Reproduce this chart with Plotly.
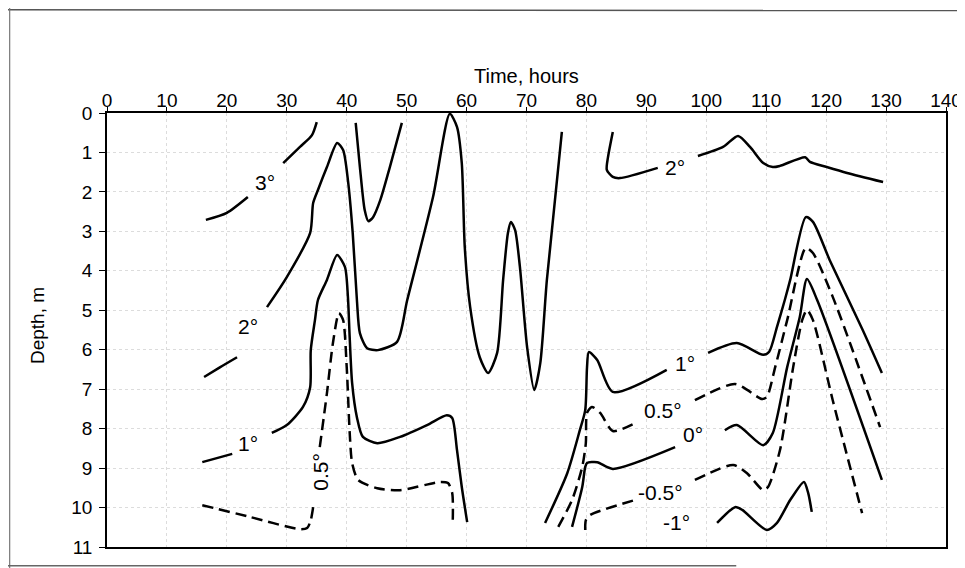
import plotly.graph_objects as go

# ---------------- data (time in hours, depth in m); None = gap for the label ----------------
iso3_t = [16.5, 20.0, 23.5, None, 29.4, 32.2, 34.2, 35.0]
iso3_d = [2.71, 2.53, 2.13, None, 1.27, 0.86, 0.56, 0.23]

iso3v_t = [41.5, 42.2, 43.0, 43.6, 44.4, 45.6, 47.2, 49.2]
iso3v_d = [0.25, 1.37, 2.46, 2.74, 2.64, 2.21, 1.37, 0.25]

iso2a_t = [16.2, 18.9, 21.7, None, 26.7, 30.0, 33.9, 34.4, 35.2, 36.7, 38.4, 39.4, 40.2, 41.0,
           41.7, 42.2, 43.4, 45.2, 48.4, 50.1, 54.4, 57.2, 58.4, 59.2, 59.7, 60.6, 62.2, 63.6,
           65.1, 66.1, 66.9, 67.4, 68.1, 68.9, 70.1, 71.3, 72.3, 73.4, 75.9]
iso2a_d = [6.69, 6.44, 6.19, None, 4.92, 4.16, 3.04, 2.28, 1.95, 1.37, 0.76, 0.94, 1.70, 3.04,
           4.74, 5.58, 5.96, 6.01, 5.80, 4.74, 2.13, 0.02, 0.35, 1.27, 3.40, 4.92, 6.19, 6.59,
           6.08, 4.23, 3.04, 2.76, 2.97, 3.90, 5.93, 7.02, 6.34, 4.23, 0.48]

iso2b_t = [84.4, 83.6, 83.4, 84.4, 85.6, 91.9, None, 98.6, 102.8, 105.3, 107.3, 109.5, 111.1,
           112.3, 116.5, 117.3, 120.1, 123.5, 129.5]
iso2b_d = [0.48, 1.12, 1.44, 1.62, 1.65, 1.39, None, 1.09, 0.86, 0.58, 0.86, 1.27, 1.37,
           1.34, 1.12, 1.24, 1.37, 1.52, 1.75]

iso1a_t = [15.9, 20.9, None, 27.5, 30.0, 32.7, 33.9, 34.0, 34.7, 35.2, 36.7, 38.4, 39.7, 40.2,
           40.5, 40.9, 41.7, 42.7, 45.1, 48.9, 53.4, 56.7, 57.6, 58.4, 59.2, 60.1]
iso1a_d = [8.85, 8.64, None, 8.11, 7.91, 7.45, 6.95, 6.01, 5.25, 4.74, 4.23, 3.60, 3.90, 4.66,
           5.70, 6.84, 7.71, 8.21, 8.37, 8.21, 7.91, 7.66, 7.73, 8.54, 9.48, 10.37]

iso05a_t = [15.9, 23.9, 32.2, 33.4, 34.0, 34.4, None, 35.5, 36.7, 37.7, 38.7, 39.4, 40.0, 40.5,
            40.9, 41.9, 45.1, 48.9, 55.6, 56.9, 57.6, 57.7]
iso05a_d = [9.94, 10.24, 10.55, 10.52, 10.32, 9.99, None, 8.47, 7.10, 5.83, 5.07, 5.25, 6.44, 8.11,
            8.87, 9.30, 9.51, 9.56, 9.35, 9.38, 9.63, 10.32]

iso1b_t = [73.1, 76.8, 78.9, 79.8, 80.1, 80.4, 81.8, 84.4, 93.4, None, 100.3, 105.1, 109.5, 110.5,
           111.8, 113.1, 114.0, 116.6, 117.8, 120.6, 126.1, 129.3]
iso1b_d = [10.39, 9.13, 8.04, 7.53, 6.44, 6.06, 6.26, 7.07, 6.51, None, 6.08, 5.83, 6.13, 6.05,
           5.42, 4.74, 4.23, 2.64, 2.76, 3.73, 5.50, 6.59]

iso05b_t = [75.3, 77.6, 79.3, 79.9, 80.1, 80.9, 82.3, 84.4, 88.1, None, 98.1, 104.8, 109.3, 110.1,
            111.5, 113.5, 116.6, 117.8, 121.1, 129.0]
iso05b_d = [10.49, 9.81, 8.97, 8.37, 7.60, 7.45, 7.60, 8.06, 7.86, None, 7.28, 6.87, 7.25, 7.20,
            6.44, 5.25, 3.42, 3.55, 4.66, 7.96]

iso0_t = [77.6, 79.3, 79.8, 80.1, 81.8, 84.4, 94.8, None, 103.1, 105.1, 109.5, 111.1, 113.5,
          115.6, 116.8, 118.5, 129.3]
iso0_d = [10.49, 9.48, 8.97, 8.87, 8.85, 9.02, 8.47, None, 8.04, 7.91, 8.42, 8.11, 6.44,
          5.17, 4.21, 4.74, 9.30]

isom05_t = [79.8, 79.9, 80.6, 88.1, None, 98.1, 104.5, 106.8, 109.5, 110.3, 112.3, 114.5, 116.0,
            116.8, 117.8, 121.1, 126.0]
isom05_d = [10.57, 10.32, 10.19, 9.81, None, 9.30, 8.92, 9.13, 9.56, 9.48, 8.54, 6.44, 5.25,
            4.99, 5.25, 7.28, 10.14]

isom1_t = [101.8, 104.8, 106.0, 110.1, 111.8, 114.0, 116.3, 117.0, 117.6]
isom1_d = [10.39, 9.99, 10.06, 10.57, 10.39, 9.81, 9.35, 9.63, 10.11]

label_text = ["3°", "2°", "1°", "0.5°", "2°", "1°", "0.5°", "0°", "-0.5°", "-1°"]
label_t = [26.4, 23.5, 23.5, 35.5, 94.8, 96.4, 92.8, 97.8, 92.3, 95.1]
label_d = [1.77, 5.42, 8.37, 9.10, 1.39, 6.34, 7.53, 8.16, 9.63, 10.39]
label_angle = [0, 0, 0, -90, 0, 0, 0, 0, 0, 0]

x_ticks = list(range(0, 141, 10))
y_ticks = list(range(0, 12))

FONT = "Liberation Sans, Arial, sans-serif"

curves = [
    (iso3_t, iso3_d, "solid"),
    (iso3v_t, iso3v_d, "solid"),
    (iso2a_t, iso2a_d, "solid"),
    (iso2b_t, iso2b_d, "solid"),
    (iso1a_t, iso1a_d, "solid"),
    (iso05a_t, iso05a_d, "11px,6px"),
    (iso1b_t, iso1b_d, "solid"),
    (iso05b_t, iso05b_d, "11px,6px"),
    (iso0_t, iso0_d, "solid"),
    (isom05_t, isom05_d, "11px,6px"),
    (isom1_t, isom1_d, "solid"),
]

fig = go.Figure()
for t, d, dash in curves:
    fig.add_trace(go.Scatter(
        x=t, y=d, mode="lines", connectgaps=False,
        line=dict(color="black", width=2.5, dash=dash, shape="spline", smoothing=0.7),
        showlegend=False, hoverinfo="skip"))

for txt, t, d, ang in zip(label_text, label_t, label_d, label_angle):
    fig.add_annotation(x=t, y=d, text=txt, showarrow=False, textangle=ang,
                       xanchor="center", yanchor="middle",
                       font=dict(family=FONT, size=21, color="black"))

# axis titles
fig.add_annotation(xref="paper", yref="paper", x=0.50, y=1.085, text="Time, hours",
                   xanchor="center", yanchor="middle",
                   showarrow=False, font=dict(family=FONT, size=20, color="black"))
fig.add_annotation(xref="paper", yref="paper", x=-0.083, y=0.51, text="Depth, m",
                   xanchor="center", yanchor="middle",
                   showarrow=False, textangle=-90, font=dict(family=FONT, size=19, color="black"))

# scanned page frame lines
fig.add_shape(type="line", xref="paper", yref="paper", x0=-0.13, x1=1.03, y0=1.238, y1=1.236,
              line=dict(color="#555", width=1.5))
fig.add_shape(type="line", xref="paper", yref="paper", x0=-0.116, x1=-0.116, y0=-0.05, y1=1.245,
              line=dict(color="#777", width=1.2))
fig.add_shape(type="line", xref="paper", yref="paper", x0=-0.13, x1=0.75, y0=-0.043, y1=-0.043,
              line=dict(color="#666", width=1.5))

fig.update_xaxes(side="top", range=[0, 140], tickvals=x_ticks, ticks="outside", ticklen=4,
                 ticklabelstandoff=-7, automargin=False, ticklabeloverflow="allow",
                 tickcolor="black", showline=True, linecolor="black", linewidth=1.5, mirror=True,
                 showgrid=True, gridcolor="#dcdcdc", griddash="dot", gridwidth=1, zeroline=False,
                 tickfont=dict(family=FONT, size=19, color="black"))
fig.update_yaxes(range=[11, 0], tickvals=y_ticks, ticks="outside", ticklen=6,
                 ticklabelstandoff=3, automargin=False, ticklabeloverflow="allow",
                 tickcolor="black", showline=True, linecolor="black", linewidth=1.5, mirror=True,
                 showgrid=True, gridcolor="#dcdcdc", griddash="dot", gridwidth=1, zeroline=False,
                 tickfont=dict(family=FONT, size=19, color="black"))

# the page puts the figure at an 8px body offset: size it so the plot area lands where the reference has it
fig.update_layout(width=957, height=560, margin=dict(l=99, r=19, t=105, b=21),
                  plot_bgcolor="white", paper_bgcolor="white")

fig.write_html("out.html")
